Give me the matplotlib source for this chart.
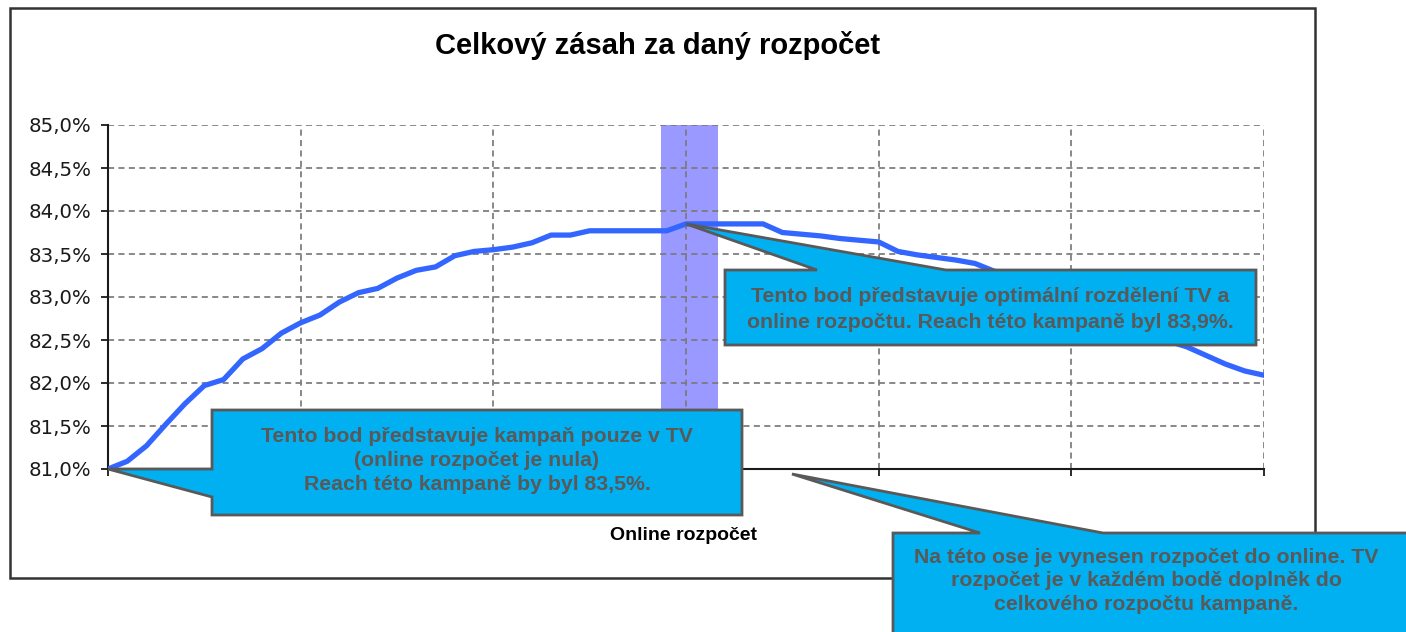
import numpy as np
import matplotlib

matplotlib.use('Agg')

from matplotlib import pyplot as plt
from matplotlib.patches import Polygon, Rectangle

##### Data #####
# online budget steps (0 = TV only), reach in %
budget_step = list(range(61))
reach = [81.00, 81.09, 81.27, 81.52, 81.76, 81.97, 82.04, 82.28, 82.40, 82.58,
         82.70, 82.79, 82.94, 83.05, 83.10, 83.22, 83.31, 83.35, 83.48, 83.53,
         83.55, 83.58, 83.63, 83.72, 83.72, 83.77, 83.77, 83.77, 83.77, 83.77,
         83.85, 83.85, 83.85, 83.85, 83.85, 83.75, 83.73, 83.71, 83.68, 83.66,
         83.64, 83.53, 83.49, 83.46, 83.43, 83.39, 83.30, 83.21, 83.11, 83.01,
         82.92, 82.82, 82.73, 82.64, 82.56, 82.49, 82.42, 82.32, 82.22, 82.14,
         82.09]
optimum_step = 30
band_from, band_to = 28.7, 31.65
y_ticks = [81.0, 81.5, 82.0, 82.5, 83.0, 83.5, 84.0, 84.5, 85.0]
y_tick_labels = [('%.1f%%' % v).replace('.', ',') for v in y_ticks]

TITLE = 'Celkový zásah za daný rozpočet'
XLABEL = 'Online rozpočet'
NOTE_OPT = 'Tento bod představuje optimální rozdělení TV a\nonline rozpočtu. Reach této kampaně byl 83,9%.'
NOTE_TV = 'Tento bod představuje kampaň pouze v TV\n(online rozpočet je nula)\nReach této kampaně by byl 83,5%.'
NOTE_AXIS = 'Na této ose je vynesen rozpočet do online. TV\nrozpočet je v každém bodě doplněk do\ncelkového rozpočtu kampaně.'

NOTE_SIZE = 15.3
plt.rcParams['font.family'] = ['Liberation Sans', 'DejaVu Sans']

W, H = 1406, 632
fig = plt.figure(figsize=(W / 100, H / 100), dpi=100)

# overlay in pixel coords (y down) for frame and callouts
over = fig.add_axes([0, 0, 1, 1], zorder=5)
over.set_xlim(0, W)
over.set_ylim(H, 0)
over.axis('off')
over.patch.set_alpha(0)

ax = fig.add_axes([108 / W, 1 - 469 / H, (1264 - 108) / W, (469 - 125) / H], zorder=2)

##### Main chart #####
ax.axvspan(band_from, band_to, color='#9999ff', zorder=0, lw=0)
ax.plot(budget_step, reach, color='#3366ff', lw=3.8, zorder=3, solid_joinstyle='round')

ax.set_xlim(0, 60)
ax.set_ylim(81, 85)
ax.set_xticks(range(0, 61, 10))
ax.set_xticklabels([])
ax.set_yticks(y_ticks)
ax.set_yticklabels(y_tick_labels, fontsize=14.2, color='#1a1a1a', family=['DejaVu Sans'])
ax.grid(True, color='#7a7a7a', linestyle=(0, (3.5, 2.5)), lw=1.25, zorder=1)
ax.set_axisbelow(True)
for side in ['top', 'right']:
    ax.spines[side].set_visible(False)
for side in ['left', 'bottom']:
    ax.spines[side].set_color('#1a1a1a')
    ax.spines[side].set_linewidth(1.5)
ax.tick_params(axis='both', direction='out', length=5, width=1.3, color='#1a1a1a', pad=7)
ax.set_facecolor('none')

fig.text(658 / W, 1 - 46 / H, TITLE, ha='center', va='center',
         fontsize=21, fontweight='bold', color='black')
fig.text(683 / W, 1 - 536 / H, XLABEL, ha='center', va='center',
         fontsize=14, fontweight='bold', color='black')

# outer chart frame
fig.add_artist(Rectangle((10 / W, 1 - 578 / H), (1315 - 10) / W, (578 - 8) / H,
                         transform=fig.transFigure, fill=False, ec='#333333', lw=1.8, zorder=0))

##### Callouts #####
def to_px(x, y):
    disp = ax.transData.transform((x, y))
    return over.transData.inverted().transform(disp)

def callout(verts, text, cx, cy, spacing):
    over.add_patch(Polygon(verts, closed=True, fc='#00b0f0', ec='#595959', lw=2, zorder=5,
                           clip_on=False))
    over.text(cx, cy, text, ha='center', va='center', fontsize=NOTE_SIZE, fontweight='bold',
              color='#595959', linespacing=spacing, zorder=6)

tip = to_px(optimum_step, reach[optimum_step])
l, t, r, b = 725, 270, 1256, 345
callout([(l, t), (817, t), tip, (946, t), (r, t), (r, b), (l, b)], NOTE_OPT,
        (l + r) / 2, (t + b) / 2 + 2, 1.45)

tip = to_px(0, reach[0])
l, t, r, b = 212, 410, 742, 515
callout([(l, t), (r, t), (r, b), (l, b), (l, 497), tip, (l, tip[1])], NOTE_TV,
        (l + r) / 2, (t + b) / 2 - 2, 1.32)

tip = to_px(35.5, 81)
tip = (tip[0], tip[1] + 5)
l, t, r, b = 893, 533, 1412, 640
callout([(l, t), (980, t), tip, (1103, t), (r, t), (r, b), (l, b)], NOTE_AXIS,
        1146, 581, 1.32)

fig.savefig('out.png', dpi=100)
